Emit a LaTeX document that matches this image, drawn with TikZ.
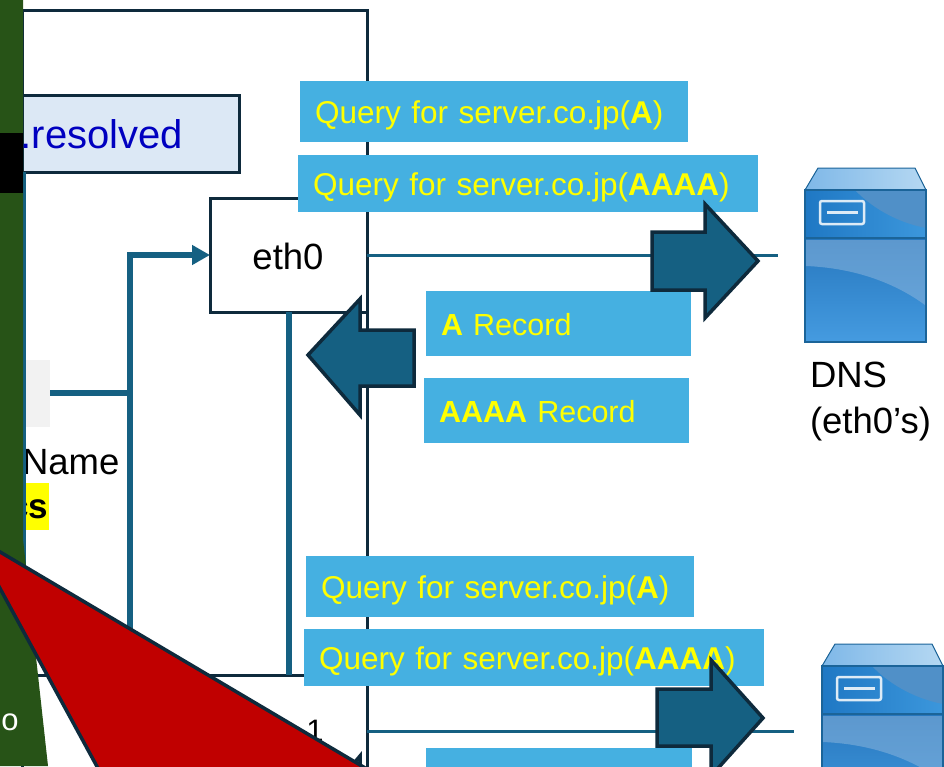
\documentclass[tikz,border=0pt]{standalone}
\usepackage{fontspec}
\setmainfont{Liberation Sans}
\usepackage{tikz}
\usetikzlibrary{positioning, arrows.meta}
\definecolor{framedark}{HTML}{0E2A3C}
\definecolor{linkteal}{HTML}{156082}
\definecolor{msgblue}{HTML}{45B0E1}
\definecolor{msgyellow}{HTML}{FFFF00}
\definecolor{sidegreen}{HTML}{275317}
\definecolor{alertred}{HTML}{C00000}
\definecolor{resolvefill}{HTML}{DCE8F5}
\definecolor{resolvetext}{HTML}{0000C0}
\definecolor{srvedge}{HTML}{1B6499}
\definecolor{srvlidl}{HTML}{7FB8E8}
\definecolor{srvlidr}{HTML}{B5D8F2}
\definecolor{srvtopl}{HTML}{1F78C4}
\definecolor{srvtopr}{HTML}{5090C8}
\definecolor{srvglow}{HTML}{3C97DC}
\definecolor{srvlowt}{HTML}{2677BE}
\definecolor{srvlowb}{HTML}{459BE0}
\definecolor{srvgloss}{HTML}{8AB4DC}

\tikzset{
    serverbox/.pic={
        % lid, upper panel and lower panel of one server
        \fill[left color=srvlidl, right color=srvlidr, draw=srvedge, line width=1pt]
            (0,22) -- (13,0) -- (110,0) -- (121,22) -- cycle;
        \fill[left color=srvtopl, right color=srvglow] (0,22) rectangle (121,70);
        \fill[srvtopr] (50,22) .. controls (65,38) and (90,54) .. (121,60) -- (121,22) -- cycle;
        \draw[white!85!srvtopl, line width=2.5pt, rounded corners=2pt] (15,33) rectangle (59,56);
        \draw[white!85!srvtopl, line width=3pt] (22,44) -- (53,44);
        \fill[bottom color=srvlowb, top color=srvlowt] (0,70) rectangle (121,174);
        \fill[srvgloss, opacity=.55] (1,72) -- (120,72) -- (120,137) .. controls (90,115) and (50,100) .. (1,98) -- cycle;
        \draw[srvedge, line width=1.5pt] (0,22) rectangle (121,174);
        \draw[srvedge, line width=1.5pt] (0,70) -- (121,70);
    }
}

\begin{document}
\begin{tikzpicture}[
    x=1pt, y=-1pt,
    every node/.style={inner sep=0pt, outer sep=0pt, font=\fontsize{36.5}{46}\selectfont},
    boxline/.style={draw=framedark, line width=3pt},
    thinlink/.style={draw=linkteal, line width=3pt},
    thicklink/.style={draw=linkteal, line width=6pt},
    msgbox/.style={fill=msgblue, text=msgyellow, anchor=north west, align=left,
        font=\fontsize{31.5}{37}\selectfont, inner xsep=15pt, text height=24pt, text depth=0pt},
    recordbox/.style={msgbox, font=\fontsize{30.5}{37}\selectfont},
    bigarrow/.style={fill=linkteal, draw=framedark, line width=3.5pt, miter limit=10}
]
    \clip (0,0) rectangle (944,766);

    % Host frames and their inner boxes
    \node[boxline, fill=white, anchor=north west, minimum width=345pt, minimum height=665pt] (host) at (22,10) {};
    \node[boxline, fill=white, anchor=north west, minimum width=345pt, minimum height=200pt] (hostlower) at (22,675) {};
    \node[boxline, fill=resolvefill, anchor=north west, minimum width=217pt, minimum height=77pt] (resolved) at (22,95) {};
    \node[text=resolvetext, anchor=east, font=\fontsize{40}{46}\selectfont] (resolvedtext) at (183,134) {.resolved};
    \node[boxline, fill=white, anchor=north west, minimum width=157pt, minimum height=114pt] (eth0) at (210,198) {};
    \node (eth0text) at (288,256) {eth0};
    \node[fill=black!5, anchor=north west, minimum width=28pt, minimum height=67pt] (app) at (22,360) {};
    \node[anchor=west] (nametext) at (22,462) {Name};
    \node[fill=msgyellow, anchor=north west, minimum width=27pt, minimum height=47pt] (appmark) at (22,483) {};
    \node[anchor=east, font=\fontsize{35}{42}\selectfont\bfseries] (appmarktext) at (48,509) {cs};
    \node[anchor=center, font=\fontsize{31}{37}\selectfont] (numone) at (315,731) {1};

    % Links
    \coordinate (branch) at (130,393);
    \coordinate (branchtop) at (130,255);
    \coordinate (branchend) at (130,675);
    \coordinate (framefoot) at (288,675);
    \coordinate (dnsone) at (778,255);
    \coordinate (ethtwo) at (367,731);
    \coordinate (dnstwo) at (794,731);
    \coordinate (leftfoot) at (24.3,566);
    \draw[thicklink] (app.east |- branch) -- (branch);
    \draw[thicklink, -{Triangle[length=18pt, width=19pt]}] (branchend) -- (branchtop) -- (eth0.west);
    \draw[thicklink] (eth0.south) -- (eth0.south |- framefoot);
    \draw[thinlink] (eth0.east) -- (dnsone);
    \draw[thinlink] (ethtwo) -- (dnstwo);
    \draw[thinlink] (resolved.south west -| leftfoot) -- (leftfoot);

    % DNS servers
    \pic at (805,168) {serverbox};
    \pic at (822,644) {serverbox};
    \node[anchor=north west, align=left] (dnstext) at (810,362) {DNS\\(eth0’s)};

    % Messages
    \node[msgbox, minimum width=388pt, minimum height=61pt, text width=358pt] (queryone) at (300,81) {Query for server.co.jp(\textbf{A})};
    \node[msgbox, minimum width=460pt, minimum height=57pt, text width=430pt] (querytwo) at (298,155) {Query for server.co.jp(\textbf{AAAA})};
    \node[recordbox, minimum width=265pt, minimum height=65pt, text width=235pt] (recordone) at (426,291) {\textbf{A} Record};
    \node[recordbox, minimum width=265pt, minimum height=65pt, text width=235pt] (recordtwo) at (424,378) {\textbf{AAAA} Record};
    \node[msgbox, minimum width=388pt, minimum height=61pt, text width=358pt] (querythree) at (306,556) {Query for server.co.jp(\textbf{A})};
    \node[msgbox, minimum width=460pt, minimum height=57pt, text width=430pt] (queryfour) at (304,629) {Query for server.co.jp(\textbf{AAAA})};
    \node[recordbox, minimum width=266pt, minimum height=65pt, text width=236pt] (recordthree) at (426,748) {};

    % Big arrows
    \draw[bigarrow] (652,232) -- (705,232) -- (705,204) -- (758,261) -- (705,318) -- (705,290) -- (652,290) -- cycle;
    \draw[bigarrow] (414,330) -- (360,330) -- (360,299) -- (308,355) -- (360,415) -- (360,386) -- (414,386) -- cycle;
    \draw[bigarrow] (657,689) -- (711,689) -- (711,660) -- (763,718) -- (711,776) -- (711,746) -- (657,746) -- cycle;
    \draw[bigarrow] (419,787) -- (360,787) -- (360,756) -- (313,812) -- (360,872) -- (360,843) -- (419,843) -- cycle;

    % Side band and the triangle over it
    \fill[sidegreen] (0,0) -- (23,0) -- (23,539) -- (48,766) -- (0,766) -- cycle;
    \node[fill=black, anchor=north west, minimum width=23pt, minimum height=60pt] (sideblack) at (0,133) {};
    \node[text=white, font=\fontsize{31}{37}\selectfont] (sidetext) at (10,722) {o};
    \draw[fill=alertred, draw=framedark, line width=3.5pt, line join=round]
        (-10,546) -- (372,772) -- (100,772) -- (-10,570) -- cycle;
\end{tikzpicture}
\end{document}
